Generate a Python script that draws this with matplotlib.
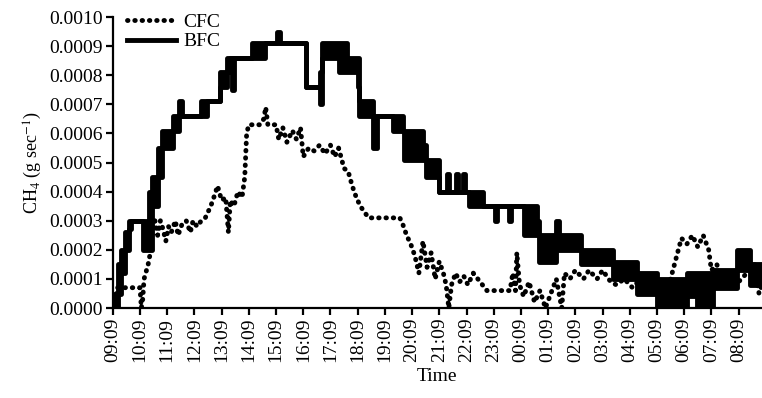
import numpy as np
import matplotlib
matplotlib.use("Agg")
import matplotlib.pyplot as plt

plt.rcParams['font.family'] = ['Liberation Serif', 'DejaVu Serif']
plt.rcParams['mathtext.fontset'] = 'stix'

# hours after 09:09
tick_labels = ['09:09', '10:09', '11:09', '12:09', '13:09', '14:09', '15:09', '16:09',
               '17:09', '18:09', '19:09', '20:09', '21:09', '22:09', '23:09', '00:09',
               '01:09', '02:09', '03:09', '04:09', '05:09', '06:09', '07:09', '08:09']

# BFC: stepped signal, oscillating between a low and a high level
bfc_t = [0.00, 0.10, 0.20, 0.30, 0.45, 0.60, 0.66, 1.05, 1.10, 1.28, 1.32, 1.45, 1.65, 1.80,
         2.20, 2.45, 2.55, 3.20, 3.25, 3.45, 3.90, 3.95, 4.20, 4.30, 4.38, 4.45, 5.05, 5.10,
         5.60, 6.05, 6.15, 7.05, 7.10, 7.55, 7.60, 7.70, 8.30, 8.60, 9.00, 9.05, 9.45, 9.55,
         9.70, 10.20, 10.30, 10.65, 10.70, 11.40, 11.50, 11.95, 12.00, 12.28, 12.34, 12.62,
         12.68, 12.88, 12.94, 13.05, 13.10, 13.60, 14.05, 14.12, 14.55, 14.62, 15.05, 15.10,
         15.60, 15.65, 16.30, 16.40, 16.70, 17.20, 18.40, 19.25, 20.00, 20.45, 21.10, 21.47,
         22.06, 22.95, 23.42, 23.86]
bfc_lo = [0.0, 0.0, 0.00005, 0.00012, 0.0002, 0.00027, 0.0003, 0.0003, 0.0002, 0.0002, 0.0002,
          0.00035, 0.00045, 0.00055, 0.00061, 0.00066, 0.00066, 0.00066, 0.00066, 0.00071,
          0.00071, 0.00076, 0.00081, 0.00086, 0.00075, 0.00086, 0.00086, 0.00086, 0.00091,
          0.00091, 0.00091, 0.00091, 0.00076, 0.00076, 0.0007, 0.00086, 0.00081, 0.00081,
          0.00076, 0.00066, 0.00066, 0.00055, 0.00066, 0.00066, 0.00061, 0.00061, 0.00051,
          0.00051, 0.00045, 0.00045, 0.0004, 0.0004, 0.0004, 0.0004, 0.0004, 0.0004, 0.0004,
          0.0004, 0.00035, 0.00035, 0.0003, 0.00035, 0.0003, 0.00035, 0.00035, 0.00025,
          0.00025, 0.00016, 0.0002, 0.0002, 0.0002, 0.00015, 0.0001, 0.00005, 0.0, 0.0,
          0.00004, 0.0, 0.00007, 0.00013, 0.00008, 0.00008]
bfc_hi = [0.0, 0.00005, 0.00015, 0.0002, 0.00026, 0.0003, 0.0003, 0.0003, 0.0003, 0.0003,
          0.0004, 0.00045, 0.00055, 0.00061, 0.00066, 0.00071, 0.00066, 0.00066, 0.00071,
          0.00071, 0.00071, 0.00081, 0.00086, 0.00086, 0.00086, 0.00086, 0.00086, 0.00091,
          0.00091, 0.00095, 0.00091, 0.00091, 0.00076, 0.00076, 0.00081, 0.00091, 0.00091,
          0.00086, 0.00086, 0.00071, 0.00071, 0.00066, 0.00066, 0.00066, 0.00066, 0.00061,
          0.00061, 0.00056, 0.00051, 0.00051, 0.0004, 0.00046, 0.0004, 0.00046, 0.0004,
          0.00046, 0.0004, 0.0004, 0.0004, 0.00035, 0.00035, 0.00035, 0.00035, 0.00035,
          0.00035, 0.00035, 0.0003, 0.00025, 0.0003, 0.00025, 0.00025, 0.0002, 0.00016,
          0.00012, 0.0001, 0.0001, 0.00012, 0.00012, 0.00013, 0.0002, 0.00015, 0.00015]

# CFC: scattered readings
cfc_t = [0.00, 0.10, 0.15, 0.60, 0.90, 1.00, 1.05, 1.10, 1.15, 1.30, 1.40, 1.45, 1.55, 1.65,
         1.75, 1.85, 1.95, 2.05, 2.15, 2.30, 2.40, 2.55, 2.70, 2.85, 2.95, 3.10, 3.25, 3.40,
         3.60, 3.75, 3.85, 4.00, 4.15, 4.25, 4.32, 4.45, 4.60, 4.75, 4.85, 4.92, 5.00, 5.40,
         5.55, 5.62, 5.70, 6.00, 6.10, 6.25, 6.40, 6.60, 6.75, 6.90, 7.00, 7.20, 7.40, 7.60,
         7.80, 8.00, 8.15, 8.30, 8.50, 8.65, 8.80, 8.95, 9.10, 9.25, 9.40, 10.55, 10.65,
         10.80, 10.95, 11.10, 11.25, 11.40, 11.55, 11.70, 11.85, 12.00, 12.15, 12.25, 12.35,
         12.45, 12.60, 12.75, 12.90, 13.05, 13.25, 13.50, 13.75, 14.60, 14.70, 14.80, 14.85,
         14.95, 15.10, 15.30, 15.50, 15.70, 15.90, 16.10, 16.30, 16.50, 16.60, 16.80, 17.00,
         17.30, 17.50, 17.80, 18.00, 18.30, 18.50, 18.80, 19.10, 19.40, 19.70, 20.00, 20.30,
         20.50, 20.70, 20.90, 21.10, 21.30, 21.50, 21.70, 21.90, 22.00, 22.20, 22.40, 22.70,
         23.00, 23.30, 23.60, 23.75, 23.86]
cfc_v = [0.0, 0.00002, 0.00007, 0.00007, 0.00007, 0.00007, 0.0, 0.00003, 0.0001, 0.00015,
         0.0002, 0.00026, 0.0003, 0.00025, 0.0003, 0.00027, 0.00023, 0.00028, 0.00026, 0.0003,
         0.00025, 0.00029, 0.0003, 0.00026, 0.0003, 0.00028, 0.0003, 0.00031, 0.00035,
         0.00039, 0.00042, 0.00037, 0.00038, 0.00026, 0.00037, 0.00035, 0.0004, 0.00038,
         0.00045, 0.0006, 0.00063, 0.00063, 0.00065, 0.00069, 0.00063, 0.00063, 0.00058,
         0.00062, 0.00057, 0.00061, 0.00058, 0.00062, 0.00052, 0.00055, 0.00054, 0.00056,
         0.00053, 0.00056, 0.00052, 0.00055, 0.00048, 0.00047, 0.00042, 0.00038, 0.00035,
         0.00033, 0.00031, 0.00031, 0.00029, 0.00025, 0.00022, 0.00018, 0.00012, 0.00023,
         0.00014, 0.00019, 0.0001, 0.00016, 0.00012, 0.00008, 0.0, 0.00008, 0.00012, 0.00009,
         0.00011, 0.00008, 0.00012, 0.00009, 0.00006, 0.00006, 0.00012, 0.00006, 0.00019,
         0.00008, 0.00004, 0.00009, 0.00002, 0.00006, 0.0, 0.00005, 0.0001, 0.0, 0.00012,
         0.0001, 0.00013, 0.0001, 0.00013, 0.0001, 0.00013, 0.00009, 0.00008, 0.0001,
         0.00007, 0.0001, 0.00005, 0.0001, 0.00006, 0.0001, 0.00017, 0.00024, 0.00022,
         0.00025, 0.00021, 0.00025, 0.0002, 0.00013, 0.00015, 0.00009, 0.0001, 0.00009,
         0.00012, 0.00015, 0.00005, 0.00008]

fig = plt.figure(figsize=(7.62, 3.98), dpi=100)
ax = fig.add_axes([0.148, 0.226, 0.852, 0.731])

ax.plot(cfc_t, cfc_v, color='black', lw=3.5, linestyle=(0, (0.1, 1.4)),
        dash_capstyle='round', label='CFC', zorder=3)
ax.fill_between(bfc_t, bfc_lo, bfc_hi, step='post', color='black', lw=0, zorder=2)
ax.plot(bfc_t, bfc_lo, color='black', lw=3.5, drawstyle='steps-post', zorder=2)
ax.plot(bfc_t, bfc_hi, color='black', lw=3.5, drawstyle='steps-post', label='BFC', zorder=2)

ax.set_xlim(0, 23.86)
ax.set_ylim(0, 0.001)
ax.set_xticks(np.arange(len(tick_labels)))
ax.set_xticklabels(tick_labels, rotation=90)
ax.set_yticks(np.arange(0, 0.00101, 0.0001))
ax.set_yticklabels([f'{v:.4f}' for v in np.arange(0, 0.00101, 0.0001)])

for s in ['top', 'right']:
    ax.spines[s].set_visible(False)
for s in ['left', 'bottom']:
    ax.spines[s].set_linewidth(1.6)
ax.tick_params(direction='out', length=5, width=1.6, labelsize=14, pad=2)

ax.set_xlabel('Time', fontsize=14)
ax.set_ylabel(r'CH$_4$ (g sec$^{-1}$)', fontsize=13)
ax.legend(loc='upper left', frameon=False, fontsize=14, handlelength=2.5,
          handletextpad=0.4, labelspacing=0.1, borderaxespad=0.0,
          bbox_to_anchor=(0.01, 1.04))

fig.savefig('out.png', dpi=100)
